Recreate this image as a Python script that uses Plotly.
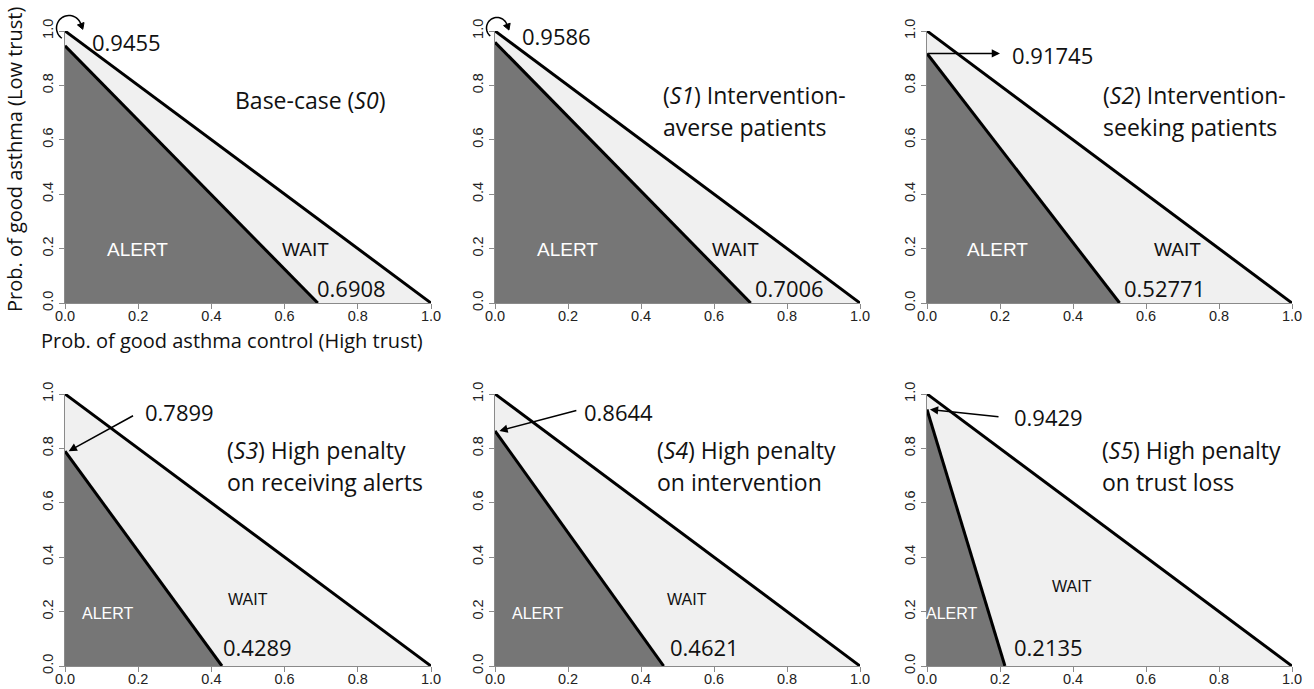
import math
import plotly.graph_objects as go

# ---- data ----
panels = ["S0", "S1", "S2", "S3", "S4", "S5"]
x_intercepts = [0.6908, 0.7006, 0.52771, 0.4289, 0.4621, 0.2135]
y_intercepts = [0.9455, 0.9586, 0.91745, 0.7899, 0.8644, 0.9429]
x_labels = ["0.6908", "0.7006", "0.52771", "0.4289", "0.4621", "0.2135"]
y_labels = ["0.9455", "0.9586", "0.91745", "0.7899", "0.8644", "0.9429"]
title_line1 = ["Base-case (<i>S0</i>)", "(<i>S1</i>) Intervention-", "(<i>S2</i>) Intervention-",
               "(<i>S3</i>) High penalty", "(<i>S4</i>) High penalty", "(<i>S5</i>) High penalty"]
title_line2 = ["", "averse patients", "seeking patients",
               "on receiving alerts", "on intervention", "on trust loss"]
tick_vals = [0, 0.2, 0.4, 0.6, 0.8, 1.0]

# ---- layout geometry (pixels) ----
W, H = 1314, 689
col_px = [(65, 431), (495, 860), (927, 1292)]
row_px = [(31, 303), (394, 666)]

DARK = "#767676"
LIGHT = "#f0f0f0"
TXT_FONT = "Open Sans"
TICK_FONT = "Liberation Sans"

def px(xp, yp):
    return xp / W, 1 - yp / H

# label positions (data coords of each panel)
ylab_pos = [(0.068, 0.96), (0.068, 0.98), (0.227, 0.912), (0.213, 0.934), (0.238, 0.934), (0.232, 0.916)]
xlab_pos = [(0.683, 0.055), (0.707, 0.055), (0.534, 0.055), (0.426, 0.07), (0.474, 0.07), (0.232, 0.07)]
title_pos = [(0.459, 0.746), (0.455, 0.765), (0.477, 0.765), (0.437, 0.795), (0.438, 0.795), (0.475, 0.795)]
title_dy = [0, 0.118, 0.118, 0.117, 0.117, 0.117]
alert_pos = [(0.197, 0.195), (0.199, 0.195), (0.192, 0.195), (0.117, 0.194), (0.118, 0.194), (0.068, 0.194)]
wait_pos = [(0.658, 0.195), (0.66, 0.195), (0.685, 0.195), (0.5, 0.245), (0.526, 0.245), (0.396, 0.293)]
lab_size = [19, 19, 19, 16, 16, 16]
# straight arrows (tail -> head) in data coords; None for curved ones
arrows = [None, None,
          ((0.0, 0.91745), (0.2, 0.91745)),
          ((0.19, 0.923), (0.01, 0.7899)),
          ((0.227, 0.941), (0.012, 0.8644)),
          ((0.2, 0.916), (0.008, 0.9429))]

fig = go.Figure()
annotations = []
shapes = []

for i in range(6):
    r, c = divmod(i, 3)
    xa = "x" if i == 0 else f"x{i+1}"
    ya = "y" if i == 0 else f"y{i+1}"
    x0 = x_intercepts[i]
    y0 = y_intercepts[i]
    # WAIT region
    fig.add_trace(go.Scatter(x=[0, 0, 1, 0], y=[0, 1, 0, 0], fill="toself", fillcolor=LIGHT,
                             mode="lines", line=dict(width=0, color=LIGHT), xaxis=xa, yaxis=ya,
                             hoverinfo="skip", showlegend=False))
    # ALERT region
    fig.add_trace(go.Scatter(x=[0, 0, x0, 0], y=[0, y0, 0, 0], fill="toself", fillcolor=DARK,
                             mode="lines", line=dict(width=0, color=DARK), xaxis=xa, yaxis=ya,
                             hoverinfo="skip", showlegend=False))
    # boundaries
    fig.add_trace(go.Scatter(x=[0, 1], y=[1, 0], mode="lines", line=dict(width=3, color="black"),
                             xaxis=xa, yaxis=ya, hoverinfo="skip", showlegend=False))
    fig.add_trace(go.Scatter(x=[0, x0], y=[y0, 0], mode="lines", line=dict(width=3, color="black"),
                             xaxis=xa, yaxis=ya, hoverinfo="skip", showlegend=False))

    xd = [col_px[c][0] / W, col_px[c][1] / W]
    yd = [1 - row_px[r][1] / H, 1 - row_px[r][0] / H]
    axcommon = dict(range=[0, 1], tickvals=tick_vals, tickformat=".1f", showgrid=False, zeroline=False,
                    showline=True, linecolor="#8a8a8a", linewidth=1, ticks="outside", ticklen=5,
                    tickcolor="#8a8a8a", tickwidth=1, tickfont=dict(family=TICK_FONT, size=14.5, color="#222"),
                    fixedrange=True, automargin=False)
    xname = "xaxis" if i == 0 else f"xaxis{i+1}"
    yname = "yaxis" if i == 0 else f"yaxis{i+1}"
    fig.update_layout(**{
        xname: dict(domain=xd, anchor=ya, **axcommon),
        yname: dict(domain=yd, anchor=xa, tickangle=-90, **axcommon),
    })
    try:
        fig.update_layout(**{xname: dict(ticklabelstandoff=-5)})
    except Exception:
        pass

    txt = dict(family=TXT_FONT, size=23, color="#111")
    num = dict(family=TXT_FONT, size=22, color="#111")
    annotations.append(dict(x=ylab_pos[i][0], y=ylab_pos[i][1], xref=xa, yref=ya, text=y_labels[i],
                            showarrow=False, xanchor="left", yanchor="middle", font=num))
    annotations.append(dict(x=xlab_pos[i][0], y=xlab_pos[i][1], xref=xa, yref=ya, text=x_labels[i],
                            showarrow=False, xanchor="left", yanchor="middle", font=num))
    annotations.append(dict(x=title_pos[i][0], y=title_pos[i][1], xref=xa, yref=ya, text=title_line1[i],
                            showarrow=False, xanchor="left", yanchor="middle", font=txt))
    if title_line2[i]:
        annotations.append(dict(x=title_pos[i][0], y=title_pos[i][1] - title_dy[i], xref=xa, yref=ya,
                                text=title_line2[i], showarrow=False, xanchor="left", yanchor="middle", font=txt))
    annotations.append(dict(x=alert_pos[i][0], y=alert_pos[i][1], xref=xa, yref=ya, text="ALERT",
                            showarrow=False, font=dict(family=TICK_FONT, size=lab_size[i], color="white")))
    annotations.append(dict(x=wait_pos[i][0], y=wait_pos[i][1], xref=xa, yref=ya, text="WAIT",
                            showarrow=False, font=dict(family=TICK_FONT, size=lab_size[i], color="#111")))
    if arrows[i] is not None:
        (tx, ty), (hx, hy) = arrows[i]
        annotations.append(dict(x=hx, y=hy, ax=tx, ay=ty, xref=xa, yref=ya, axref=xa, ayref=ya, text="",
                                showarrow=True, arrowhead=2, arrowsize=1.1, arrowwidth=1.5, arrowcolor="black"))

# curved arrows (S0, S1) drawn as paper paths
def curved(cx, cy, rad, a0, a1, n=30):
    pts = []
    for k in range(n + 1):
        a = math.radians(a0 + (a1 - a0) * k / n)
        pts.append((cx + rad * math.cos(a), cy - rad * math.sin(a)))
    path = "M " + " L ".join(f"{px(x, y)[0]:.5f},{px(x, y)[1]:.5f}" for x, y in pts)
    shapes.append(dict(type="path", xref="paper", yref="paper", path=path,
                       line=dict(color="black", width=1.5)))
    # arrowhead
    a = math.radians(a1)
    ex, ey = pts[-1]
    dx, dy = math.sin(a), math.cos(a)  # direction of travel (clockwise) in screen coords
    tip = (ex + dx * 6, ey + dy * 6)
    b1 = (ex - dy * 3.5, ey + dx * 3.5)
    b2 = (ex + dy * 3.5, ey - dx * 3.5)
    hp = "M " + " L ".join(f"{px(x, y)[0]:.5f},{px(x, y)[1]:.5f}" for x, y in [tip, b1, b2]) + " Z"
    shapes.append(dict(type="path", xref="paper", yref="paper", path=hp,
                       fillcolor="black", line=dict(color="black", width=1)))

curved(69, 28, 12.5, 235, 20)
curved(497, 28, 10.5, 230, 20)

# axis titles
tx, ty = px(232, 340)
annotations.append(dict(x=tx, y=ty, xref="paper", yref="paper", text="Prob. of good asthma control (High trust)",
                        showarrow=False, xanchor="center", yanchor="middle",
                        font=dict(family=TXT_FONT, size=20, color="#111")))
tx, ty = px(14, 160)
annotations.append(dict(x=tx, y=ty, xref="paper", yref="paper", text="Prob. of good asthma (Low trust)",
                        showarrow=False, textangle=-90, xanchor="center", yanchor="middle",
                        font=dict(family=TXT_FONT, size=20, color="#111")))

fig.update_layout(width=W, height=H, margin=dict(l=0, r=0, t=0, b=0), plot_bgcolor="white",
                  paper_bgcolor="white", annotations=annotations, shapes=shapes, showlegend=False)

fig.write_html("out.html", config={"displayModeBar": False},
               post_script="document.body.style.margin='0';document.body.style.overflow='hidden';")
